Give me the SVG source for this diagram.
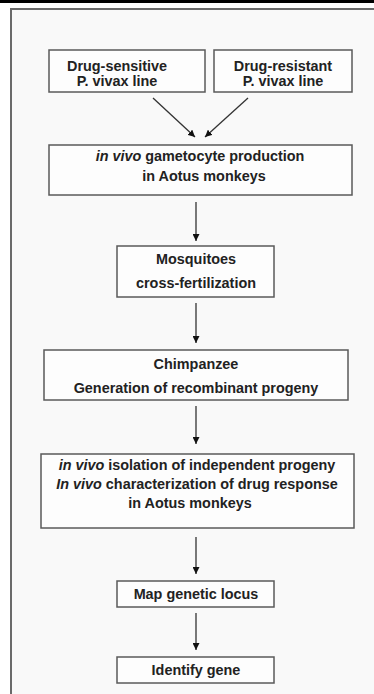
<svg xmlns="http://www.w3.org/2000/svg" width="374" height="694" viewBox="0 0 374 694">
<defs>
<style>
.box{fill:#fdfdfd;stroke:#5a5a5a;stroke-width:1.5}
.t{font-family:"Liberation Sans",Arial,sans-serif;font-weight:bold;font-size:14.4px;fill:#222;text-anchor:middle}
.c{stroke:#333;stroke-width:1.3;fill:none;marker-end:url(#ah)}
</style>
<marker id="ah" viewBox="0 0 10 10" refX="10" refY="5" markerWidth="7" markerHeight="7" markerUnits="userSpaceOnUse" orient="auto">
<path d="M0,0 L10,5 L0,10 Z" fill="#111"/>
</marker>
</defs>
<rect x="0" y="0" width="374" height="694" fill="#ffffff"/>
<rect x="0" y="0" width="374" height="3" fill="#000"/>
<rect x="11" y="9" width="370" height="700" fill="#f9f9f9" stroke="#6a6a6a" stroke-width="2"/>
<g id="connectors">
<line class="c" x1="153" y1="98" x2="195" y2="137"/>
<line class="c" x1="248" y1="98" x2="205" y2="137"/>
<line class="c" x1="196" y1="202" x2="196" y2="241"/>
<line class="c" x1="196" y1="303" x2="196" y2="343"/>
<line class="c" x1="196" y1="406" x2="196" y2="444"/>
<line class="c" x1="196" y1="537" x2="196" y2="574"/>
<line class="c" x1="196" y1="613" x2="196" y2="650"/>
</g>
<g id="n1">
<rect class="box" x="49" y="50" width="156" height="42"/>
<text class="t" x="117" y="71">Drug-sensitive</text>
<text class="t" x="117" y="86">P. vivax line</text>
</g>
<g id="n2">
<rect class="box" x="214" y="50" width="138" height="42"/>
<text class="t" x="283" y="71">Drug-resistant</text>
<text class="t" x="283" y="86">P. vivax line</text>
</g>
<g id="n3">
<rect class="box" x="49" y="145" width="303" height="50"/>
<text class="t" x="200" y="161"><tspan font-style="italic">in vivo</tspan> gametocyte production</text>
<text class="t" x="204" y="181">in Aotus monkeys</text>
</g>
<g id="n4">
<rect class="box" x="117" y="246" width="157" height="51"/>
<text class="t" x="196" y="264">Mosquitoes</text>
<text class="t" x="196" y="288">cross-fertilization</text>
</g>
<g id="n5">
<rect class="box" x="44" y="350" width="304" height="50"/>
<text class="t" x="196" y="369">Chimpanzee</text>
<text class="t" x="196" y="393">Generation of recombinant progeny</text>
</g>
<g id="n6">
<rect class="box" x="41" y="454" width="313" height="74"/>
<text class="t" x="197" y="470"><tspan font-style="italic">in vivo</tspan> isolation of independent progeny</text>
<text class="t" x="197" y="489"><tspan font-style="italic">In vivo</tspan> characterization of drug response</text>
<text class="t" x="190" y="508">in Aotus monkeys</text>
</g>
<g id="n7">
<rect class="box" x="117" y="581" width="157" height="26"/>
<text class="t" x="196" y="599">Map genetic locus</text>
</g>
<g id="n8">
<rect class="box" x="117" y="657" width="157" height="26"/>
<text class="t" x="196" y="675">Identify gene</text>
</g>
</svg>
